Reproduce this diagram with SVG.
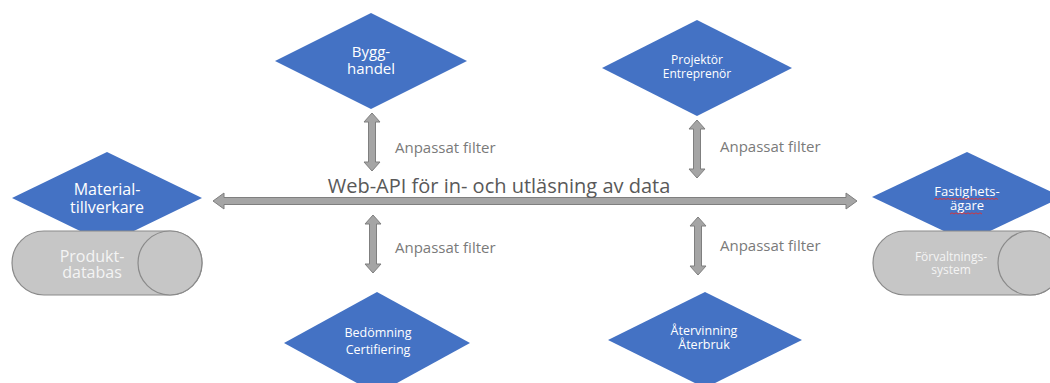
<svg xmlns="http://www.w3.org/2000/svg" width="1050" height="383" viewBox="0 0 1050 383">
  <style>
    .diamond { fill: #4472c4; }
    .dlabel { fill: #ffffff; font-family: "Open Sans", "Noto Sans", "Liberation Sans", sans-serif; text-anchor: middle; }
    .cyl { fill: #c6c6c6; stroke: #8a8a8a; stroke-width: 1.2; }
    .clabel { fill: #f4f4f4; font-family: "Open Sans", "Noto Sans", "Liberation Sans", sans-serif; text-anchor: middle; }
    .arrow { fill: #a5a5a5; stroke: #7f7f7f; stroke-width: 1; }
    .title { fill: #595959; font-family: "Open Sans", "Noto Sans", "Liberation Sans", sans-serif; font-size: 20px; text-anchor: middle; }
    .flabel { fill: #7a7a7a; font-family: "Open Sans", "Noto Sans", "Liberation Sans", sans-serif; font-size: 15px; }
    .squiggle { fill: none; stroke: #e03030; stroke-width: 0.9; }
  </style>
  <defs>
    <!-- vertical double-headed block arrow, 58 px long, centred on x=0 -->
    <polygon id="vArrow" class="arrow" points="0,0 8,9 3.5,9 3.5,49 8,49 0,58 -8,49 -3.5,49 -3.5,9 -8,9"/>
  </defs>

  <!-- connectors -->
  <g id="connectors">
    <polygon id="api-bus" class="arrow" points="213,201 224,193 224,197.5 846,197.5 846,193 857,201 846,209 846,204.5 224,204.5 224,209"/>
    <use href="#vArrow" x="372" y="113"/>
    <use href="#vArrow" x="373" y="215"/>
    <use href="#vArrow" x="697" y="120"/>
    <use href="#vArrow" x="698" y="217"/>
    <text class="title" x="499" y="193">Web-API för in- och utläsning av data</text>
    <text class="flabel" x="395" y="153">Anpassat filter</text>
    <text class="flabel" x="395" y="253">Anpassat filter</text>
    <text class="flabel" x="720" y="152">Anpassat filter</text>
    <text class="flabel" x="720" y="251">Anpassat filter</text>
  </g>

  <!-- manufacturer with its product database -->
  <g id="materialtillverkare">
    <polygon class="diamond" points="107,152 202,198 107,244 12,198"/>
    <text class="dlabel" font-size="16" x="107" y="195">Material-</text>
    <text class="dlabel" font-size="16" x="107" y="213">tillverkare</text>
  </g>
  <g id="produktdatabas">
    <path class="cyl" d="M44,231 H170 A32,32 0 0 1 170,295 H44 A32,32 0 0 1 44,231 Z"/>
    <ellipse class="cyl" cx="170" cy="263" rx="32" ry="32"/>
    <text class="clabel" font-size="16" x="92" y="262">Produkt-</text>
    <text class="clabel" font-size="16" x="92" y="278">databas</text>
  </g>

  <!-- property owner with its management system -->
  <g id="fastighetsagare">
    <polygon class="diamond" points="967,152 1062,197 967,242 872,197"/>
    <text class="dlabel" font-size="13" x="967" y="196">Fastighets-</text>
    <text class="dlabel" font-size="13" x="967" y="210">ägare</text>
    <path class="squiggle" d="M934,199.5 l2,-1.2 l2,1.2 l2,-1.2 l2,1.2 l2,-1.2 l2,1.2 l2,-1.2 l2,1.2 l2,-1.2 l2,1.2 l2,-1.2 l2,1.2 l2,-1.2 l2,1.2 l2,-1.2 l2,1.2 l2,-1.2 l2,1.2 l2,-1.2 l2,1.2 l2,-1.2 l2,1.2 l2,-1.2 l2,1.2 l2,-1.2 l2,1.2 l2,-1.2 l2,1.2 l2,-1.2 l2,1.2 l2,-1.2 l2,1.2"/>
    <path class="squiggle" d="M950,214 l2,-1.2 l2,1.2 l2,-1.2 l2,1.2 l2,-1.2 l2,1.2 l2,-1.2 l2,1.2 l2,-1.2 l2,1.2 l2,-1.2 l2,1.2 l2,-1.2 l2,1.2 l2,-1.2 l2,1.2"/>
  </g>
  <g id="forvaltningssystem">
    <path class="cyl" d="M905,231 H1030 A32,32 0 0 1 1030,295 H905 A32,32 0 0 1 905,231 Z"/>
    <ellipse class="cyl" cx="1030" cy="263" rx="32" ry="32"/>
    <text class="clabel" font-size="12" x="951" y="261">Förvaltnings-</text>
    <text class="clabel" font-size="12" x="951" y="274">system</text>
  </g>

  <!-- top row -->
  <g id="bygghandel">
    <polygon class="diamond" points="371,13 467,61 371,109 275,61"/>
    <text class="dlabel" font-size="15" x="371" y="57">Bygg-</text>
    <text class="dlabel" font-size="15" x="371" y="74">handel</text>
  </g>
  <g id="projektor">
    <polygon class="diamond" points="697,20 792,68 697,116 602,68"/>
    <text class="dlabel" font-size="12" x="697" y="64">Projektör</text>
    <text class="dlabel" font-size="12" x="697" y="78">Entreprenör</text>
  </g>

  <!-- bottom row -->
  <g id="bedomning">
    <polygon class="diamond" points="377,292 470,343 377,394 284,343"/>
    <text class="dlabel" font-size="12.5" x="378" y="337">Bedömning</text>
    <text class="dlabel" font-size="12.5" x="378" y="354">Certifiering</text>
  </g>
  <g id="atervinning">
    <polygon class="diamond" points="705,292 802,340 705,388 608,340"/>
    <text class="dlabel" font-size="12.5" x="704" y="335">Återvinning</text>
    <text class="dlabel" font-size="12.5" x="704" y="349">Återbruk</text>
  </g>
</svg>
